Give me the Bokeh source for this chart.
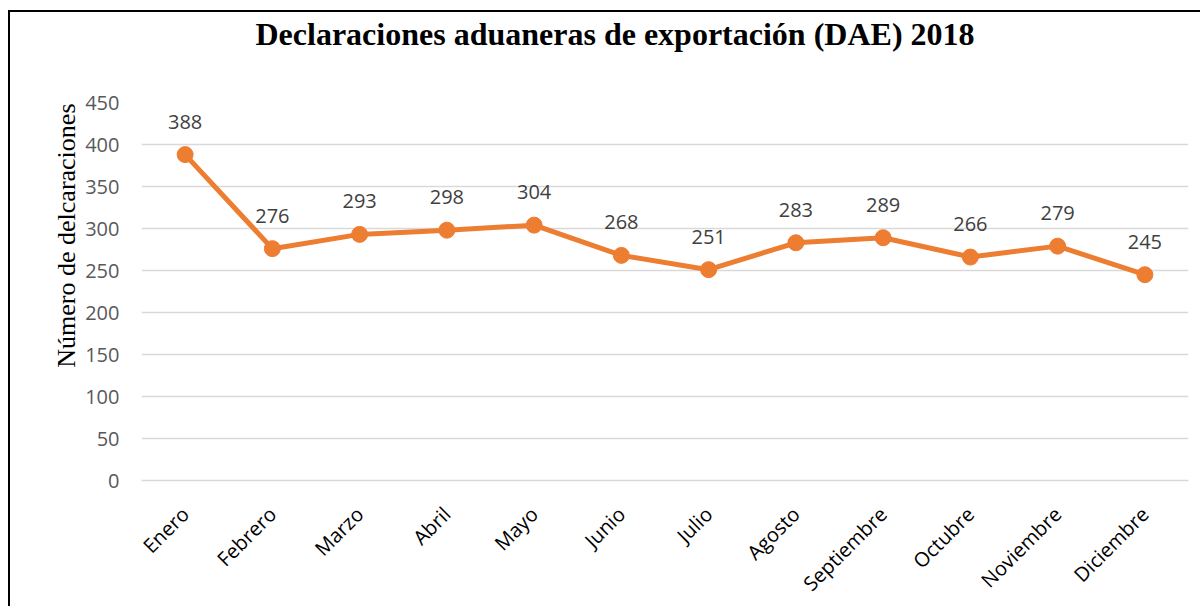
from math import pi
from bokeh.plotting import figure
from bokeh.models import ColumnDataSource, FixedTicker, Range1d, Title
from bokeh.core.properties import value
from bokeh.embed import file_html
from bokeh.resources import INLINE

months = ["Enero", "Febrero", "Marzo", "Abril", "Mayo", "Junio", "Julio",
          "Agosto", "Septiembre", "Octubre", "Noviembre", "Diciembre"]
declaraciones = [388, 276, 293, 298, 304, 268, 251, 283, 289, 266, 279, 245]
y_ticks = [0, 50, 100, 150, 200, 250, 300, 350, 400, 450]

title_text = "Declaraciones aduaneras de exportación (DAE) 2018"
y_label = "Número de delcaraciones"

src = ColumnDataSource(dict(x=months, y=declaraciones,
                            lbl=[str(v) for v in declaraciones]))

p = figure(x_range=months, y_range=Range1d(0, 450), width=1192, height=596,
           output_backend="svg", toolbar_location=None,
           min_border_left=131, min_border_right=14,
           min_border_top=90, min_border_bottom=125)
p.styles = {"margin-left": "8px", "margin-top": "10px",
            "border-left": "2px solid black", "border-top": "2px solid black"}

p.title.text = title_text
p.title.text_font = "Liberation Serif"
p.title.text_font_size = "32px"
p.title.text_font_style = "bold"
p.title.text_color = "#000000"
p.title.align = "left"
p.title.offset = 114
p.title.vertical_align = "top"
p.title.standoff = 4

spacer = Title(text=" ", text_font="Liberation Serif", text_font_size="40px",
               standoff=0)
p.add_layout(spacer, "above")

ytitle = Title(text=y_label, text_font="Liberation Serif", text_font_size="26px",
               text_font_style="normal", text_color="#000000",
               align="right", offset=1, standoff=4)
p.add_layout(ytitle, "left")

p.outline_line_color = None
p.background_fill_color = "white"
p.border_fill_color = "white"

p.xgrid.grid_line_color = None
p.ygrid.grid_line_color = "#D9D9D9"
p.ygrid.grid_line_width = 1.5
p.yaxis.ticker = FixedTicker(ticks=y_ticks)

p.yaxis.axis_line_color = None
p.yaxis.major_tick_line_color = None
p.yaxis.minor_tick_line_color = None
p.yaxis.major_label_text_font = "Open Sans"
p.yaxis.major_label_text_font_size = "20px"
p.yaxis.major_label_text_color = "#595959"
p.yaxis.major_label_standoff = 16

p.xaxis.axis_line_color = "#D9D9D9"
p.xaxis.axis_line_width = 1.5
p.xaxis.major_tick_line_color = None
p.xaxis.minor_tick_line_color = None
p.xaxis.major_label_orientation = pi / 4
p.xaxis.major_label_text_font = "Open Sans"
p.xaxis.major_label_text_font_size = "20px"
p.xaxis.major_label_text_color = "#000000"
p.xaxis.major_label_standoff = 24

p.line("x", "y", source=src, line_color="#ED7D31", line_width=5)
p.scatter("x", "y", source=src, size=16, fill_color="#ED7D31", line_color="#ED7D31")
p.text("x", "y", text="lbl", source=src, text_font=value("Open Sans"),
       text_font_size="20px", text_color="#404040", text_align="center",
       text_baseline="bottom", y_offset=-26)

open("out.html", "w").write(file_html(p, INLINE))
